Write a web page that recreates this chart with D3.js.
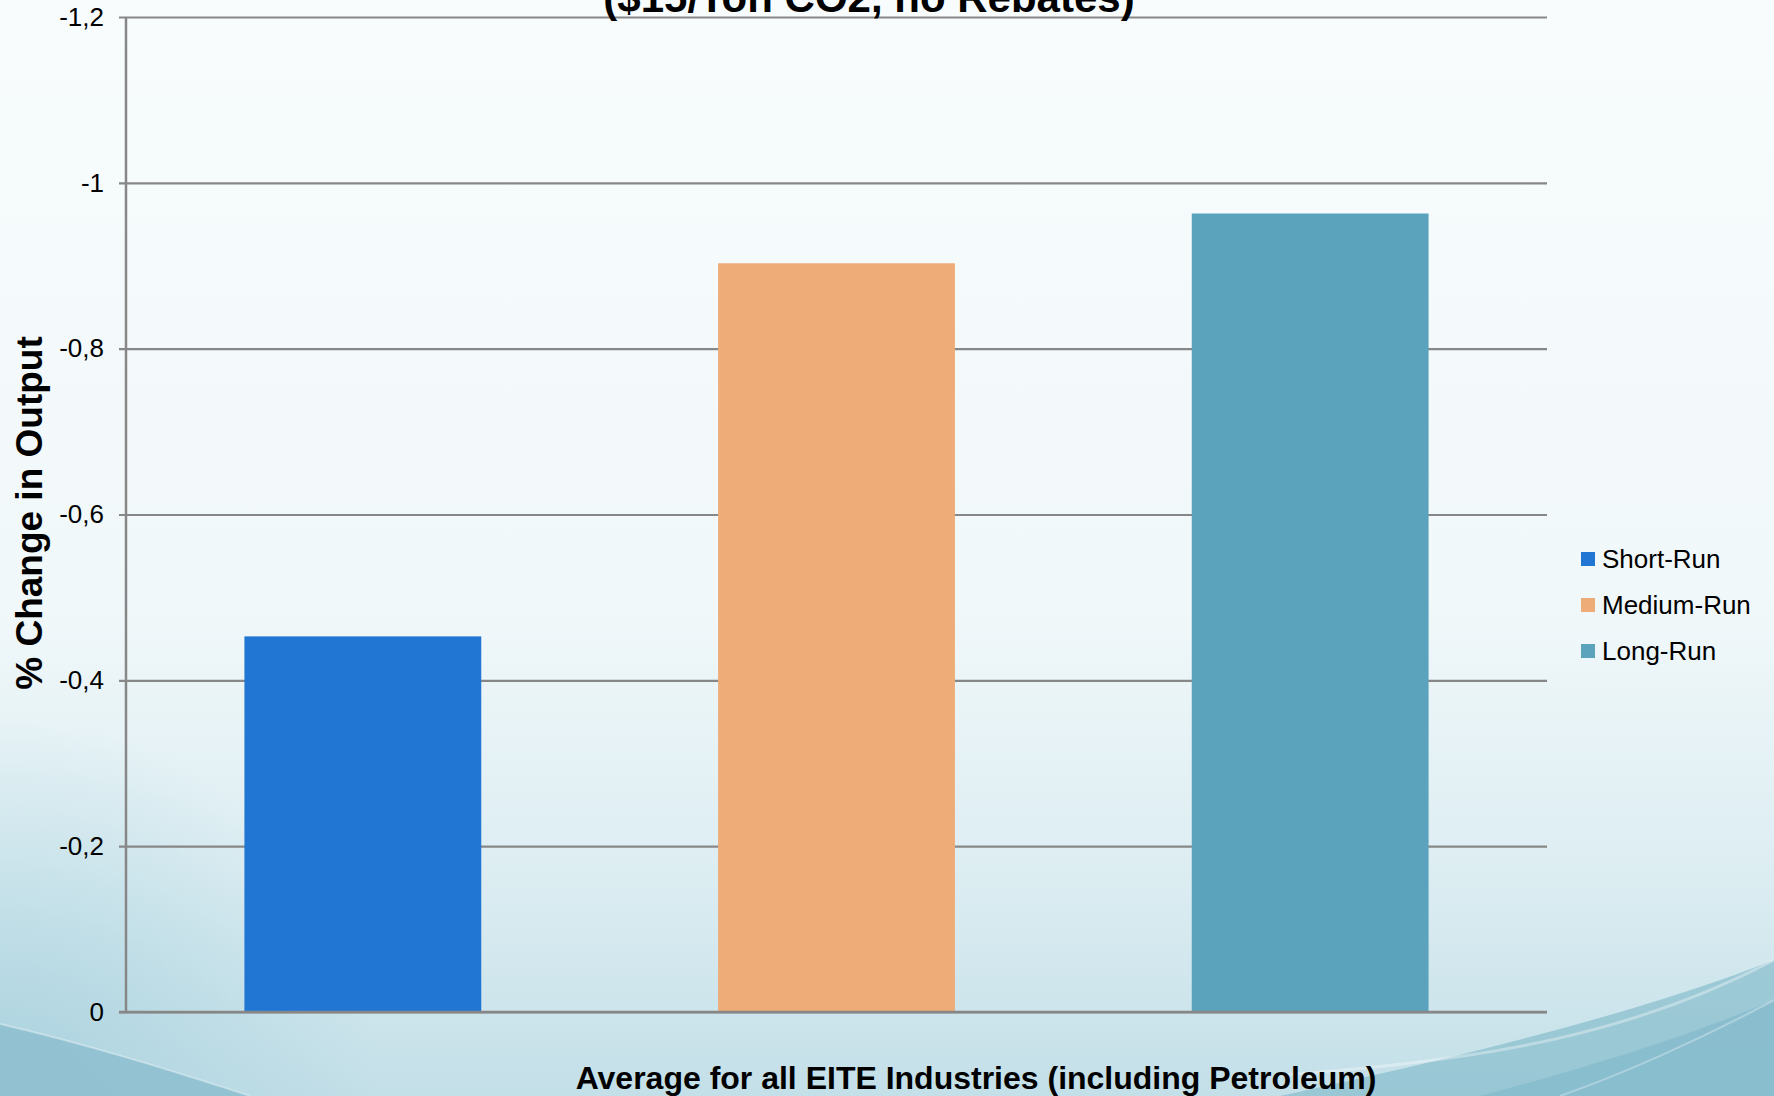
<!DOCTYPE html>
<html>
<head>
<meta charset="utf-8">
<script src="https://cdn.jsdelivr.net/npm/d3@7"></script>
<style>
  html, body { margin: 0; padding: 0; overflow: hidden; }
  svg { display: block; font-family: "Liberation Sans", Arial, sans-serif; }
</style>
</head>
<body>
<div id="chart"></div>
<script>
// data
var series = ["Short-Run", "Medium-Run", "Long-Run"];
var values = [-0.453, -0.903, -0.963];
var colors = ["#2176d4", "#eeac78", "#5ba3bd"];
var yTicks = [0, -0.2, -0.4, -0.6, -0.8, -1, -1.2];

var titleText = "($15/Ton CO2, no Rebates)";
var yTitle = "% Change in Output";
var xTitle = "Average for all EITE Industries (including Petroleum)";

var width = 1774,
    height = 1096;
var plot = {left: 126, right: 1547, top: 17, bottom: 1012};

var svg = d3.select("#chart")
    .append("svg")
    .attr("width", width)
    .attr("height", height);

/***** background *****/
var defs = svg.append("defs");
var bg = defs.append("linearGradient").attr("id", "bg")
    .attr("x1", 0).attr("y1", 0).attr("x2", 0).attr("y2", 1);
bg.append("stop").attr("offset", "0").attr("stop-color", "#f8fcfd");
bg.append("stop").attr("offset", "0.55").attr("stop-color", "#f1f8fa");
bg.append("stop").attr("offset", "0.8").attr("stop-color", "#dcedf2");
bg.append("stop").attr("offset", "1").attr("stop-color", "#c3dfe8");

// soft glow in the lower left corner
var side = defs.append("radialGradient").attr("id", "side")
    .attr("gradientUnits", "userSpaceOnUse")
    .attr("cx", 0).attr("cy", 1096).attr("r", 380);
side.append("stop").attr("offset", "0").attr("stop-color", "#a4cfdc").attr("stop-opacity", 0.8);
side.append("stop").attr("offset", "1").attr("stop-color", "#a4cfdc").attr("stop-opacity", 0);

svg.append("rect").attr("width", width).attr("height", height).attr("fill", "url(#bg)");
svg.append("rect")
    .attr("x", 0).attr("y", 700).attr("width", 400).attr("height", 396)
    .attr("fill", "url(#side)");

// lower left wedge
svg.append("path")
    .attr("d", "M0,1024 C90,1045 170,1070 250,1096 L0,1096 Z")
    .attr("fill", "#8fc0d0").attr("opacity", 0.9);
svg.append("path")
    .attr("d", "M0,1024 C90,1045 170,1070 250,1096")
    .attr("fill", "none").attr("stroke", "#ffffff").attr("stroke-width", 2).attr("opacity", 0.35);

// lower right wedge with swooshes
svg.append("path")
    .attr("d", "M1774,960 C1650,1010 1450,1060 1280,1096 L1774,1096 Z")
    .attr("fill", "#8bbfce").attr("opacity", 0.75);
svg.append("path")
    .attr("d", "M1774,1000 C1680,1040 1560,1075 1480,1096 L1774,1096 Z")
    .attr("fill", "#7fb8ca").attr("opacity", 0.6);
svg.append("path")
    .attr("d", "M1774,960 C1640,1030 1500,1060 1280,1075")
    .attr("fill", "none").attr("stroke", "#ffffff").attr("stroke-width", 3).attr("opacity", 0.35);
svg.append("path")
    .attr("d", "M1774,1000 C1700,1040 1620,1075 1560,1096")
    .attr("fill", "none").attr("stroke", "#ffffff").attr("stroke-width", 2).attr("opacity", 0.3);

/***** scales *****/
var x = d3.scaleBand()
    .domain(series)
    .range([plot.left, plot.right])
    .paddingInner(0.5)
    .paddingOuter(0.25);

var y = d3.scaleLinear()
    .domain([0, -1.2])
    .range([plot.bottom, plot.top]);

var locale = d3.formatLocale({decimal: ",", thousands: ".", grouping: [3], currency: ["", ""], minus: "-"});
var fmt = locale.format(".1~f");

/***** grid + axis *****/
var yAxis = d3.axisLeft(y)
    .tickValues(yTicks)
    .tickSize(-(plot.right - plot.left))
    .tickFormat(fmt);

var gy = svg.append("g")
    .attr("transform", `translate(${plot.left},0)`)
    .call(yAxis);
gy.select(".domain").remove();
gy.selectAll(".tick line")
    .attr("x1", -7)
    .attr("stroke", "#878787")
    .attr("stroke-width", 2.2);
gy.selectAll(".tick text")
    .attr("x", -22)
    .attr("fill", "#000")
    .style("font-size", "26px")
    .style("font-family", "'Liberation Sans', Arial, sans-serif");

/***** bars *****/
svg.selectAll(".bar")
    .data(values)
    .enter()
    .append("rect")
    .attr("class", "bar")
    .attr("x", (d, i) => x(series[i]))
    .attr("width", x.bandwidth())
    .attr("y", d => y(d))
    .attr("height", d => y(0) - y(d))
    .attr("fill", (d, i) => colors[i]);

// baseline and vertical axis drawn on top
svg.append("line")
    .attr("x1", plot.left - 7).attr("x2", plot.right)
    .attr("y1", y(0)).attr("y2", y(0))
    .attr("stroke", "#878787").attr("stroke-width", 2.5);
svg.append("line")
    .attr("x1", plot.left).attr("x2", plot.left)
    .attr("y1", plot.top).attr("y2", plot.bottom)
    .attr("stroke", "#878787").attr("stroke-width", 2.5);

/***** legend *****/
var legend = svg.append("g").attr("transform", "translate(1581,559)");
var items = legend.selectAll("g")
    .data(series)
    .enter()
    .append("g")
    .attr("transform", (d, i) => `translate(0,${i * 46})`);
items.append("rect")
    .attr("x", 0).attr("y", -7)
    .attr("width", 14).attr("height", 14)
    .attr("fill", (d, i) => colors[i]);
items.append("text")
    .attr("x", 21).attr("y", 9)
    .style("font-size", "26px")
    .text(d => d);

/***** titles *****/
svg.append("text")
    .attr("x", 869).attr("y", 12)
    .attr("text-anchor", "middle")
    .style("font-size", "42px").style("font-weight", "bold")
    .text(titleText);

svg.append("text")
    .attr("transform", "translate(42,513) rotate(-90)")
    .attr("text-anchor", "middle")
    .style("font-size", "37px").style("font-weight", "bold")
    .text(yTitle);

svg.append("text")
    .attr("x", 976).attr("y", 1089)
    .attr("text-anchor", "middle")
    .style("font-size", "32px").style("font-weight", "bold")
    .text(xTitle);
</script>
</body>
</html>
